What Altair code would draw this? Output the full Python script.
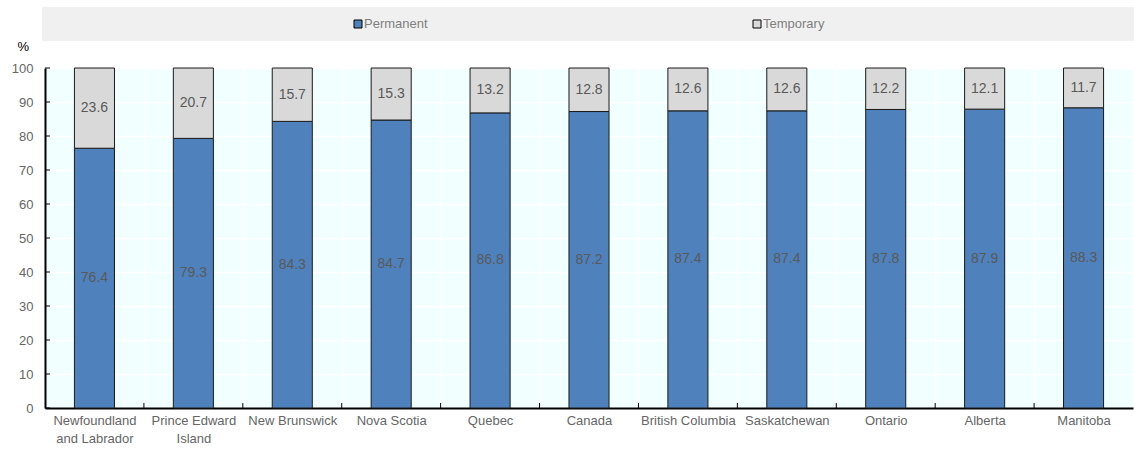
import altair as alt
import pandas as pd

# Share of employees by type of contract, by province
regions = [
    "Newfoundland and Labrador", "Prince Edward Island", "New Brunswick",
    "Nova Scotia", "Quebec", "Canada", "British Columbia", "Saskatchewan",
    "Ontario", "Alberta", "Manitoba",
]
permanent = [76.4, 79.3, 84.3, 84.7, 86.8, 87.2, 87.4, 87.4, 87.8, 87.9, 88.3]
temporary = [23.6, 20.7, 15.7, 15.3, 13.2, 12.8, 12.6, 12.6, 12.2, 12.1, 11.7]
series = ["Permanent", "Temporary"]
colors = ["#4F81BD", "#D9D9D9"]
y_ticks = [0, 10, 20, 30, 40, 50, 60, 70, 80, 90, 100]

FONT = "Liberation Sans"
W, H = 1088, 340

rows = []
for r, p, t in zip(regions, permanent, temporary):
    rows.append({"region": r, "series": "Permanent", "value": p, "order": 0})
    rows.append({"region": r, "series": "Temporary", "value": t, "order": 1})
df = pd.DataFrame(rows)

x_scale = alt.Scale(domain=regions, paddingInner=0, paddingOuter=0)
y_scale = alt.Scale(domain=[0, 100], nice=False)
color_scale = alt.Scale(domain=series, range=colors)

label_expr = (
    "datum.label == 'Newfoundland and Labrador' ? ['Newfoundland', 'and Labrador'] : "
    "datum.label == 'Prince Edward Island' ? ['Prince Edward', 'Island'] : datum.label"
)

x_axis = alt.Axis(labelAngle=0, labelFont=FONT, labelFontSize=13,
                  labelColor="#666666", labelPadding=6, labelLimit=200,
                  labelExpr=label_expr, ticks=False, grid=True,
                  gridColor="white", gridWidth=1.5, tickBand="extent",
                  domainColor="#000000", domainWidth=2,
                  labelOverlap=False, labelLineHeight=18, title=None)
y_axis = alt.Axis(values=y_ticks, title="%", titleAngle=0,
                  titleFont=FONT, titleFontSize=13, titleFontWeight="normal",
                  titleColor="#000000", titleX=-28, titleY=-22,
                  titleAlign="left", titleBaseline="middle",
                  labelFont=FONT, labelFontSize=13,
                  labelColor="#666666", labelPadding=12, ticks=False,
                  labelOverlap=False, labelSeparation=0,
                  grid=True, gridColor="white", gridWidth=1.5,
                  domainColor="#000000", domainWidth=2)

base = alt.Chart(df).transform_stack(
    stack="value", groupby=["region"], as_=["y0", "y1"],
    sort=[alt.SortField("order", order="ascending")],
).transform_calculate(mid="(datum.y0 + datum.y1) / 2")

bars = base.mark_bar(
    width=alt.RelativeBandSize(0.405), stroke="#1a1a1a", strokeWidth=1
).encode(
    x=alt.X("region:N", scale=x_scale, sort=regions, axis=x_axis),
    y=alt.Y("y0:Q", scale=y_scale, axis=y_axis),
    y2="y1:Q",
    color=alt.Color("series:N", scale=color_scale, legend=None),
)

labels = base.mark_text(font=FONT, fontSize=14, color="#595959").encode(
    x=alt.X("region:N", scale=x_scale, sort=regions, axis=x_axis),
    y=alt.Y("mid:Q", scale=y_scale, axis=y_axis),
    text=alt.Text("value:Q", format=".1f"),
)

# inward tick marks on both axes
ytick_df = pd.DataFrame({"v": y_ticks})
y_tick_marks = alt.Chart(ytick_df).mark_rule(color="#000000", strokeWidth=1).encode(
    y=alt.Y("v:Q", scale=y_scale, axis=y_axis), x=alt.value(0), x2=alt.value(5)
)
xtick_df = pd.DataFrame({"region": regions[1:]})
x_tick_marks = alt.Chart(xtick_df).mark_rule(color="#000000", strokeWidth=1).encode(
    x=alt.X("region:N", scale=x_scale, sort=regions, bandPosition=0, axis=x_axis),
    y=alt.value(H), y2=alt.value(H - 5),
)

# legend band across the top
band_df = pd.DataFrame({"k": [0]})
legend_band = alt.Chart(band_df).mark_rect(color="#F0F0F0").encode(
    x=alt.value(-3), x2=alt.value(W + 1), y=alt.value(-61), y2=alt.value(-27)
)
legend_layers = []
for name, col, xpos in zip(series, colors, [313, 712]):
    item = pd.DataFrame({"series": [name]})
    legend_layers.append(
        alt.Chart(item).mark_square(size=64, color=col, stroke="#000000",
                                    strokeWidth=1, opacity=1).encode(
            x=alt.value(xpos), y=alt.value(-44)
        )
    )
    legend_layers.append(
        alt.Chart(item).mark_text(font=FONT, fontSize=13, color="#7f7f7f",
                                  align="left", baseline="middle").encode(
            x=alt.value(xpos + 6), y=alt.value(-44), text="series:N"
        )
    )

chart = alt.layer(
    bars, labels, y_tick_marks, x_tick_marks, legend_band, *legend_layers
).properties(
    width=W, height=H,
    autosize=alt.AutoSizeParams(type="none"),
    padding={"left": 45, "top": 68, "right": 1, "bottom": 42},
    background="white",
).configure_view(fill="#F2FFFF", stroke=None).configure_axis(labelOverlap=False)

chart.save("out.html", embed_options={"renderer": "svg", "actions": False})
